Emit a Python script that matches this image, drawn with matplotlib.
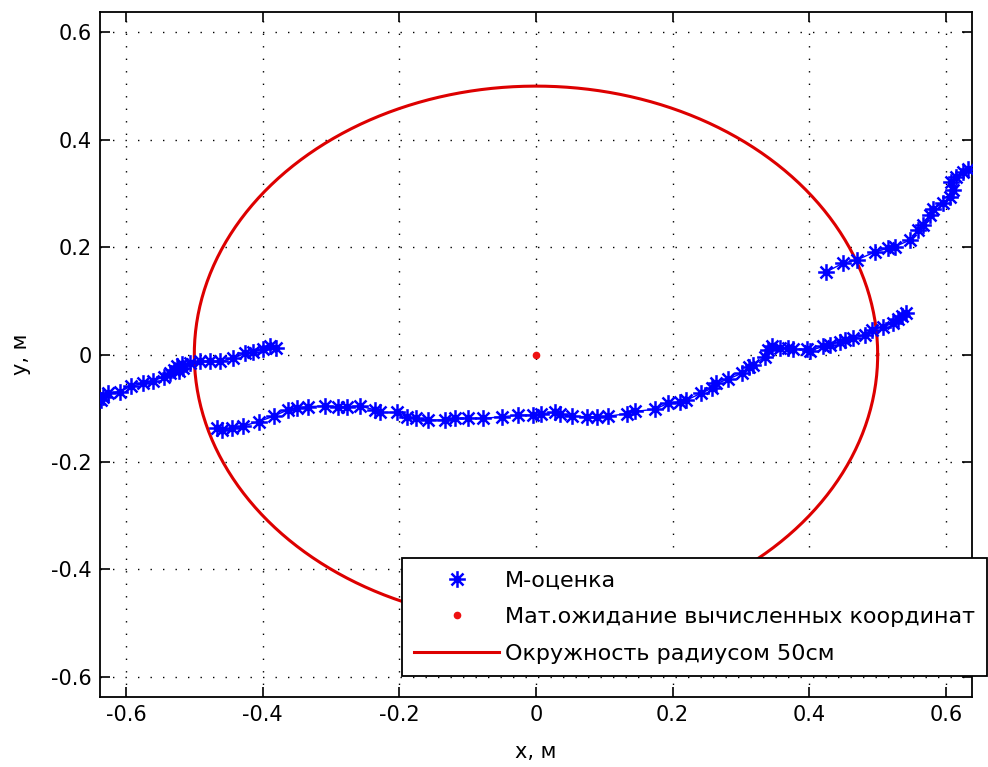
import numpy as np
import matplotlib
matplotlib.use("Agg")
import matplotlib.pyplot as plt
from matplotlib.path import Path

plt.rcParams["font.family"] = ["DejaVu Sans"]
plt.rcParams["axes.unicode_minus"] = False

# M-estimate track, three separate pieces (metres)
track_a_x = [-0.636, -0.633, -0.626, -0.609, -0.592, -0.575, -0.560, -0.545, -0.535,
             -0.530, -0.526, -0.522, -0.518, -0.516, -0.506, -0.492, -0.477, -0.462,
             -0.443, -0.426, -0.414, -0.399, -0.389, -0.380]
track_a_y = [-0.085, -0.079, -0.072, -0.069, -0.059, -0.054, -0.049, -0.042, -0.035,
             -0.028, -0.022, -0.030, -0.018, -0.025, -0.015, -0.013, -0.013, -0.013,
             -0.007, 0.002, 0.005, 0.010, 0.016, 0.012]

track_b_x = [-0.467, -0.460, -0.445, -0.428, -0.406, -0.384, -0.363, -0.350, -0.333,
             -0.309, -0.289, -0.277, -0.258, -0.236, -0.228, -0.204, -0.189, -0.175,
             -0.158, -0.133, -0.119, -0.099, -0.077, -0.050, -0.026, -0.004, 0.008,
             0.028, 0.035, 0.052, 0.074, 0.089, 0.106, 0.133, 0.145, 0.174, 0.193,
             0.211, 0.220, 0.242, 0.257, 0.264, 0.281, 0.301, 0.311, 0.318, 0.335,
             0.340, 0.345, 0.357, 0.369, 0.376, 0.396, 0.401, 0.420, 0.430, 0.445,
             0.452, 0.464, 0.481, 0.491, 0.508, 0.523, 0.530, 0.536, 0.541]
track_b_y = [-0.137, -0.141, -0.137, -0.133, -0.125, -0.115, -0.103, -0.100, -0.097,
             -0.096, -0.097, -0.097, -0.096, -0.103, -0.108, -0.108, -0.116, -0.119,
             -0.122, -0.122, -0.119, -0.119, -0.119, -0.116, -0.113, -0.113, -0.110,
             -0.108, -0.110, -0.115, -0.116, -0.116, -0.115, -0.110, -0.106, -0.102,
             -0.091, -0.088, -0.085, -0.072, -0.063, -0.054, -0.046, -0.035, -0.023,
             -0.020, -0.004, 0.008, 0.015, 0.012, 0.012, 0.010, 0.010, 0.007,
             0.015, 0.018, 0.024, 0.027, 0.030, 0.036, 0.046, 0.052, 0.058, 0.066,
             0.072, 0.077]

track_c_x = [0.425, 0.449, 0.469, 0.496, 0.515, 0.525, 0.547, 0.559, 0.566, 0.576,
             0.581, 0.596, 0.606, 0.610, 0.608, 0.615, 0.625, 0.632]
track_c_y = [0.154, 0.170, 0.176, 0.191, 0.198, 0.201, 0.213, 0.232, 0.241, 0.260,
             0.272, 0.282, 0.294, 0.306, 0.322, 0.331, 0.340, 0.345]

# mean of the computed coordinates
mean_x = [0.0]
mean_y = [0.0]

circle_radius = 0.5

labels = ["М-оценка", "Мат.ожидание вычисленных координат", "Окружность радиусом 50см"]
ticks = [-0.6, -0.4, -0.2, 0, 0.2, 0.4, 0.6]
lim = 0.638

# MATLAB-like asterisk: plus with shorter diagonals
d = 0.72
verts = [(-1, 0), (1, 0), (0, -1), (0, 1), (-d, -d), (d, d), (-d, d), (d, -d)]
codes = [Path.MOVETO, Path.LINETO] * 4
asterisk = Path(verts, codes)

fig = plt.figure(figsize=(9.88, 7.67), dpi=100)
ax = fig.add_axes([0.1012, 0.0913, 0.8826, 0.893])

nan = [np.nan]
tx = track_a_x + nan + track_b_x + nan + track_c_x
ty = track_a_y + nan + track_b_y + nan + track_c_y
# thin trace joining consecutive estimates, markers on top
ax.plot(tx, ty, color="#0000ff", lw=1.0, zorder=3)
ax.plot(tx, ty, ls="none", color="#0000ff", marker=asterisk, markersize=12,
        markeredgewidth=1.8, label=labels[0], zorder=3)
ax.plot(mean_x, mean_y, ls="none", marker=".", color="#ee1111", markersize=9,
        label=labels[1], zorder=4)

t = np.linspace(0, 2 * np.pi, 400)
ax.plot(circle_radius * np.cos(t), circle_radius * np.sin(t), color="#dd0000",
        lw=2.2, label=labels[2], zorder=2)

ax.set_xlim(-lim, lim)
ax.set_ylim(-lim, lim)
ax.set_xticks(ticks)
ax.set_yticks(ticks)
fmt = lambda v: "0" if v == 0 else f"{v:g}"
ax.set_xticklabels([fmt(v) for v in ticks])
ax.set_yticklabels([fmt(v) for v in ticks])
ax.tick_params(direction="in", length=7, width=1.2, top=True, right=True,
               labelsize=15, colors="black", pad=6)
for s in ax.spines.values():
    s.set_linewidth(1.3)
ax.grid(True, color="black", lw=1.0, ls=(0, (1, 8)))

ax.set_xlabel("x, м", fontsize=15, labelpad=12)
ax.set_ylabel("у, м", fontsize=15, labelpad=14)

leg = ax.legend(loc="upper left", bbox_to_anchor=(0.4069, 0.2725),
                bbox_transform=fig.transFigure, fontsize=16, handlelength=3.8,
                numpoints=1, fancybox=False, framealpha=1, edgecolor="black",
                borderpad=0.56, labelspacing=0.75, handletextpad=0.27,
                borderaxespad=0)
leg.get_frame().set_linewidth(1.3)
leg.set_zorder(10)

fig.savefig("out.png", dpi=100)
